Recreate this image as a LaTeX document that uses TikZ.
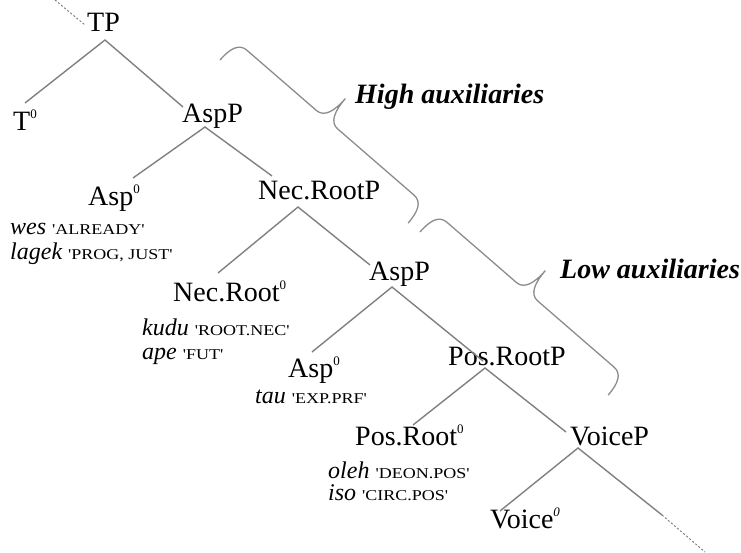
\documentclass[tikz,border=0pt]{standalone}
\usepackage{fontspec}
\usepackage{graphicx}
\setmainfont{Liberation Serif}
\newfontfamily\capsfont[Ligatures=TeXOff]{Liberation Serif}
\definecolor{linegray}{RGB}{128,128,128}
\definecolor{bracegray}{RGB}{140,140,140}
\newcommand{\zsup}[1]{\raisebox{12pt}{\fontsize{13}{13}\selectfont #1}}
\newcommand{\glw}[1]{{\itshape #1}}
\newcommand{\glc}[1]{\scalebox{1.2}[1]{\capsfont\fontsize{15}{16}\selectfont '#1'}}
\tikzset{
  branch/.style={draw=linegray, line width=1.4pt},
  dotbranch/.style={draw=linegray, line width=1pt, dash pattern=on 2pt off 2pt},
  lbl/.style={anchor=base west, inner sep=0pt, font=\fontsize{28}{30}\selectfont},
  gls/.style={anchor=base west, inner sep=0pt, font=\fontsize{24}{26}\selectfont},
  auxlbl/.style={anchor=base west, inner sep=0pt, font=\fontsize{28}{30}\selectfont\bfseries\itshape},
  bracepath/.style={draw=bracegray, line width=1.3pt}
}
\begin{document}
\begin{tikzpicture}[x=1pt,y=1pt]
\useasboundingbox (0,0) rectangle (741,-553);
% labels
\node[lbl] (TP) at (87,-32) {TP};
\node[lbl] (T0) at (13,-131) {T\zsup{0}};
\node[lbl] (AspPa) at (182,-123) {AspP};
\node[lbl] (Asp0a) at (88,-206) {Asp\zsup{0}};
\node[gls] (wes) at (10,-235) {\glw{wes} \glc{ALREADY}};
\node[gls] (lagek) at (10,-260) {\glw{lagek} \glc{PROG, JUST}};
\node[lbl] (NecRootP) at (258,-200) {Nec.RootP};
\node[lbl] (NecRoot0) at (173,-301) {Nec.Root\zsup{0}};
\node[gls] (kudu) at (142,-335) {\glw{kudu} \glc{ROOT.NEC}};
\node[gls] (ape) at (142,-359) {\glw{ape} \glc{FUT}};
\node[lbl] (AspPb) at (369,-280) {AspP};
\node[lbl] (Asp0b) at (288,-377) {Asp\zsup{0}};
\node[gls] (tau) at (255,-403) {\glw{tau} \glc{EXP.PRF}};
\node[lbl] (PosRootP) at (448,-365) {Pos.RootP};
\node[lbl] (PosRoot0) at (355,-445) {Pos.Root\zsup{0}};
\node[gls] (oleh) at (328,-478) {\glw{oleh} \glc{DEON.POS}};
\node[gls] (iso) at (328,-500) {\glw{iso} \glc{CIRC.POS}};
\node[lbl] (VoiceP) at (570,-445) {VoiceP};
\node[lbl] (Voice0) at (490,-528) {Voice\zsup{\itshape 0}};
\node[auxlbl] (high) at (355,-104) {High auxiliaries};
\node[auxlbl] (low) at (560,-278) {Low auxiliaries};
% attachment points
\coordinate (TPtop) at (85,-25);
\coordinate (TPup) at (55,0);
\coordinate (TPb) at (105,-40);
\coordinate (T0t) at (25,-103);
\coordinate (AspPat) at (183,-107);
\coordinate (AspPab) at (205,-127);
\coordinate (Asp0at) at (133,-178);
\coordinate (NecRootPt) at (272,-176);
\coordinate (NecRootPb) at (298,-207);
\coordinate (NecRoot0t) at (218,-273);
\coordinate (AspPbt) at (370,-265);
\coordinate (AspPbb) at (392,-287);
\coordinate (Asp0bt) at (312,-352);
\coordinate (PosRootPt) at (483,-361);
\coordinate (PosRootPb) at (485,-368);
\coordinate (PosRoot0t) at (413,-425);
\coordinate (VoicePt) at (566,-432);
\coordinate (VoicePb) at (578,-448);
\coordinate (Voice0t) at (500,-511);
\coordinate (Vend) at (662,-515);
\coordinate (Vdown) at (705,-552);
% branches
\draw[dotbranch] (TPup) -- (TPtop);
\draw[branch] (T0t) -- (TPb) -- (AspPat);
\draw[branch] (Asp0at) -- (AspPab) -- (NecRootPt);
\draw[branch] (NecRoot0t) -- (NecRootPb) -- (AspPbt);
\draw[branch] (Asp0bt) -- (AspPbb) -- (PosRootPt);
\draw[branch] (PosRoot0t) -- (PosRootPb) -- (VoicePt);
\draw[branch] (Voice0t) -- (VoicePb) -- (Vend);
\draw[dotbranch] (Vend) -- (Vdown);
% braces
\begin{scope}[shift={(220,-60)}, rotate=-40.92]
\draw[bracepath] (0,0) .. controls (0,16) and (4,25) .. (14,25) -- (106,25) .. controls (116,25) and (120,36) .. (120,53) .. controls (120,36) and (124,25) .. (134,25) -- (235,25) .. controls (245,25) and (249,16) .. (249,0);
\end{scope}
\begin{scope}[shift={(420,-232)}, rotate=-40.92]
\draw[bracepath] (0,0) .. controls (0,16) and (4,25) .. (14,25) -- (106,25) .. controls (116,25) and (120,36) .. (120,53) .. controls (120,36) and (124,25) .. (134,25) -- (235,25) .. controls (245,25) and (249,16) .. (249,0);
\end{scope}
\end{tikzpicture}
\end{document}
